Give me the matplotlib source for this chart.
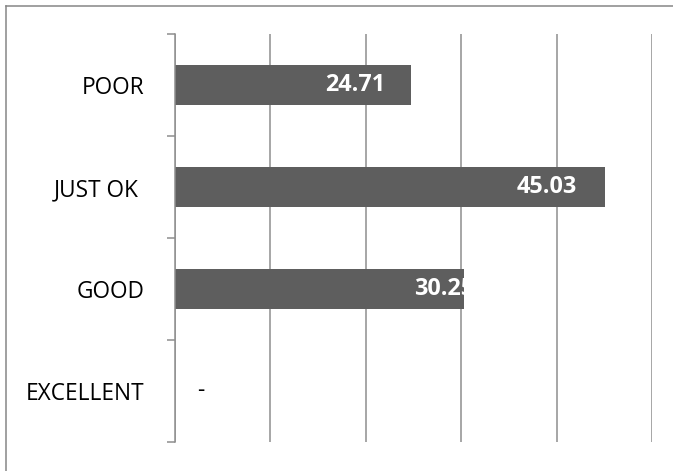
import matplotlib
matplotlib.use("Agg")
import matplotlib.pyplot as plt
from matplotlib.lines import Line2D
from matplotlib.transforms import offset_copy
import numpy as np

categories = ["POOR", "JUST OK ", "GOOD", "EXCELLENT"]
values = [24.71, 45.03, 30.25, 0.0]
value_labels = ["24.71", "45.03", "30.25", "-"]
x_ticks = [0, 10, 20, 30, 40, 50]

# label placement (pixel offsets from bar end, text centre)
label_offsets_px = [-55, -58, -19, 26]

plt.rcParams['font.family'] = ['Open Sans', 'DejaVu Sans']

W, H = 673, 471
dpi = 100
fig = plt.figure(figsize=(W / dpi, H / dpi), dpi=dpi)
ax = fig.add_axes([175 / W, 1 - 442 / H, (652 - 175) / W, (442 - 34) / H])

ypos = np.arange(len(categories))
bars = ax.barh(ypos, values, height=0.4, color="#5e5e5e", zorder=3)

ax.set_xlim(0, 50)
ax.set_ylim(len(categories) - 0.5, -0.5)
ax.set_xticks(x_ticks)
ax.tick_params(axis="x", length=0, labelbottom=False)
ax.grid(axis="x", color="#8e8e8e", linewidth=1.1, zorder=0)
ax.grid(axis="y", visible=False)

for s in ["top", "right", "bottom"]:
    ax.spines[s].set_visible(False)
ax.spines["left"].set_color("#8e8e8e")
ax.spines["left"].set_linewidth(1.1)
ax.spines["left"].set_zorder(4)

ax.set_yticks(ypos)
ax.set_yticklabels(categories, fontsize=16.3, color="#000000")
ax.tick_params(axis="y", which="major", length=0, pad=22)
ax.set_yticks(np.arange(-0.5, len(categories), 1.0), minor=True)
ax.tick_params(axis="y", which="minor", length=6, width=1.1, color="#8e8e8e", direction="out")

for i, (bar, v, lab, off) in enumerate(zip(bars, values, value_labels, label_offsets_px)):
    tr = offset_copy(ax.transData, fig=fig, x=off, y=0, units="dots")
    if v > 0:
        t = ax.text(v, ypos[i], lab, transform=tr, ha="center", va="center",
                    fontsize=16.8, fontweight="bold", color="white", zorder=5)
        t.set_clip_path(bar)
    else:
        ax.text(v, ypos[i], lab, transform=tr, ha="center", va="center",
                fontsize=16.3, color="black", zorder=5)

# outer chart border (top and left visible)
fig.add_artist(Line2D([6 / W, 1.0], [1 - 5.5 / H, 1 - 5.5 / H], transform=fig.transFigure,
                      color="#868686", linewidth=1.1))
fig.add_artist(Line2D([6 / W, 6 / W], [0.0, 1 - 5.5 / H], transform=fig.transFigure,
                      color="#868686", linewidth=1.1))

fig.savefig("out.png", dpi=dpi)
